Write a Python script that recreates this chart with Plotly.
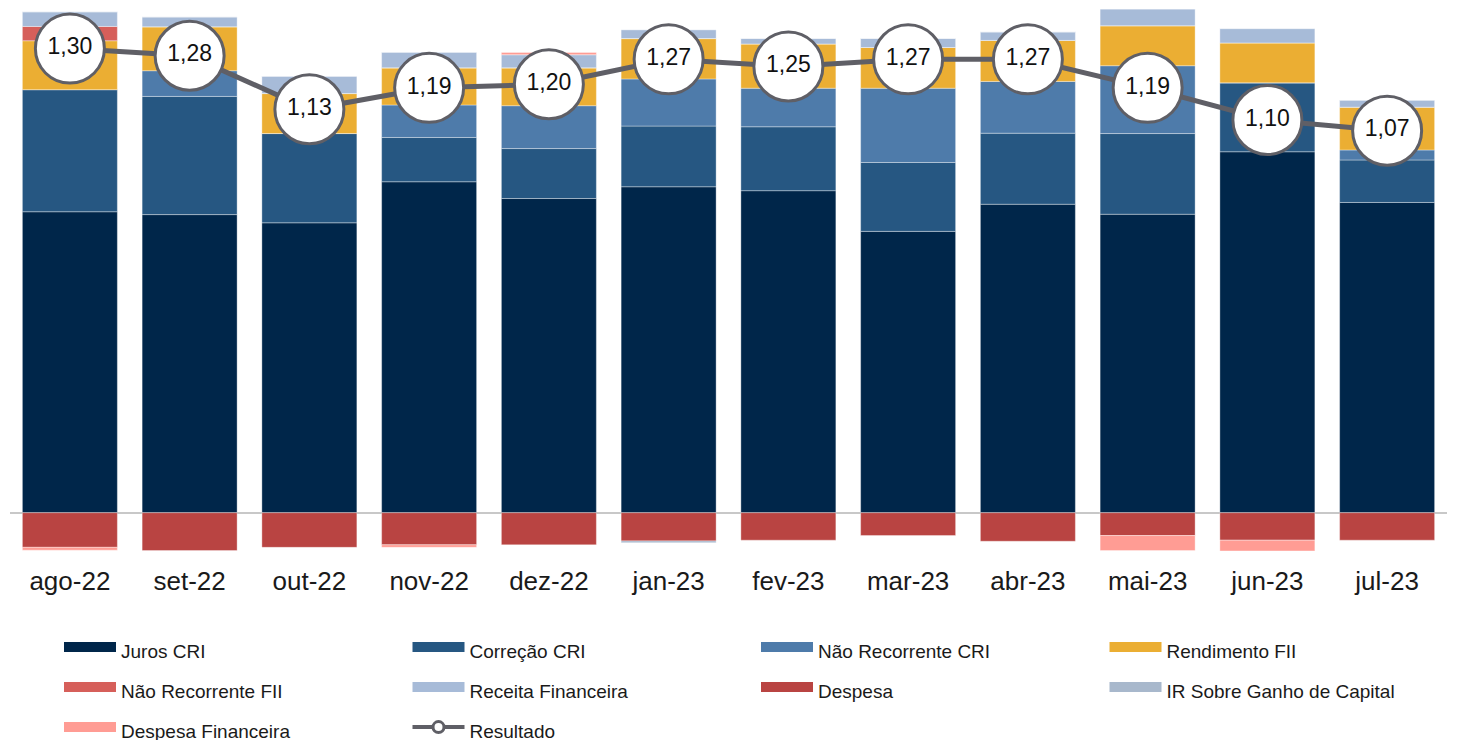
import plotly.graph_objects as go

meses = ["ago-22", "set-22", "out-22", "nov-22", "dez-22", "jan-23",
         "fev-23", "mar-23", "abr-23", "mai-23", "jun-23", "jul-23"]

juros_cri = [0.843, 0.835, 0.812, 0.927, 0.880, 0.913, 0.902, 0.788, 0.864, 0.836, 1.011, 0.869]
correcao_cri = [0.342, 0.331, 0.250, 0.124, 0.140, 0.170, 0.179, 0.193, 0.199, 0.226, 0.193, 0.119]
nao_rec_cri = [0.000, 0.072, 0.000, 0.091, 0.120, 0.132, 0.108, 0.208, 0.145, 0.190, 0.000, 0.028]
rendimento_fii = [0.137, 0.123, 0.112, 0.104, 0.106, 0.113, 0.124, 0.114, 0.115, 0.112, 0.112, 0.120]
nao_rec_fii = [0.040, 0.000, 0.000, 0.000, 0.000, 0.000, 0.000, 0.000, 0.000, 0.000, 0.000, 0.000]
receita_fin = [0.041, 0.028, 0.049, 0.044, 0.037, 0.025, 0.016, 0.026, 0.024, 0.047, 0.040, 0.020]
despesa = [-0.097, -0.106, -0.097, -0.090, -0.090, -0.079, -0.077, -0.064, -0.080, -0.064, -0.077, -0.077]
ir_ganho = [0.000, 0.000, 0.000, 0.000, 0.000, -0.005, 0.000, 0.000, 0.000, 0.000, 0.000, 0.000]
despesa_fin = [-0.008, 0.000, 0.000, -0.007, 0.006, 0.000, 0.000, 0.000, 0.000, -0.042, -0.030, 0.000]
resultado = [1.30, 1.28, 1.13, 1.19, 1.20, 1.27, 1.25, 1.27, 1.27, 1.19, 1.10, 1.07]

FONT = "Liberation Sans, Arial, Helvetica, sans-serif"
LEG_TXT = 19

series = [
    ("Juros CRI", juros_cri, "#00264A"),
    ("Correção CRI", correcao_cri, "#265782"),
    ("Não Recorrente CRI", nao_rec_cri, "#4E7BAA"),
    ("Rendimento FII", rendimento_fii, "#EBAE33"),
    ("Não Recorrente FII", nao_rec_fii, "#D65F5A"),
    ("Receita Financeira", receita_fin, "#A7BBD8"),
    ("Despesa", despesa, "#B94442"),
    ("IR Sobre Ganho de Capital", ir_ganho, "#A8B8CC"),
    ("Despesa Financeira", despesa_fin, "#FF9C94"),
]

fig = go.Figure()

for name, vals, color in series:
    fig.add_trace(go.Bar(
        x=meses, y=vals, name=name, legendgroup=name, showlegend=False,
        marker=dict(color=color, line=dict(color="rgba(255,255,255,0.35)", width=1)),
        hoverinfo="x+y+name",
    ))
    # legend entry (wide rectangle symbol)
    fig.add_trace(go.Scatter(
        x=[None], y=[None], mode="lines", legendgroup=name,
        name=f'<span style="font-size:{LEG_TXT}px">{name}</span>',
        line=dict(color=color, width=12), hoverinfo="skip",
    ))

LINE_COLOR = "#5F5F66"
fig.add_trace(go.Scatter(
    x=meses, y=resultado, mode="lines+markers+text", name="Resultado",
    legendgroup="Resultado", showlegend=False,
    line=dict(color=LINE_COLOR, width=5),
    marker=dict(size=69, color="white", line=dict(color=LINE_COLOR, width=3)),
    text=[f"{v:.2f}".replace(".", ",") for v in resultado],
    textposition="middle center",
    textfont=dict(size=23, color="#111111", family=FONT),
    cliponaxis=False,
))
fig.add_trace(go.Scatter(
    x=[None], y=[None], mode="lines+markers", legendgroup="Resultado",
    name=f'<span style="font-size:{LEG_TXT}px">Resultado</span>',
    line=dict(color=LINE_COLOR, width=4),
    marker=dict(size=11, color="white", line=dict(color=LINE_COLOR, width=3)),
    hoverinfo="skip",
))

fig.update_layout(
    width=1457, height=740,
    barmode="relative", bargap=0.207,
    plot_bgcolor="white", paper_bgcolor="white",
    margin=dict(l=10, r=10, t=5, b=185, autoexpand=False),
    font=dict(family=FONT, color="#1a1a1a"),
    showlegend=True,
    legend=dict(
        orientation="h", x=0.0341, y=-0.1218, xanchor="left", yanchor="top",
        entrywidth=281.5, entrywidthmode="pixels", itemwidth=52,
        font=dict(size=28.5, family=FONT, color="#1a1a1a"),
        traceorder="normal",
    ),
    xaxis=dict(
        type="category", range=[-0.5, 11.5], showgrid=False, showline=False,
        zeroline=False,
        ticks="outside", ticklen=3, tickcolor="rgba(0,0,0,0)",
        tickfont=dict(size=26, family=FONT, color="#1a1a1a"),
    ),
    yaxis=dict(
        range=[-0.1185, 1.4221], visible=True, showgrid=False,
        showticklabels=False, ticks="", showline=False,
        zeroline=True, zerolinecolor="#C8C8C8", zerolinewidth=2,
        layer="above traces",
    ),
)

fig.write_html("out.html")
